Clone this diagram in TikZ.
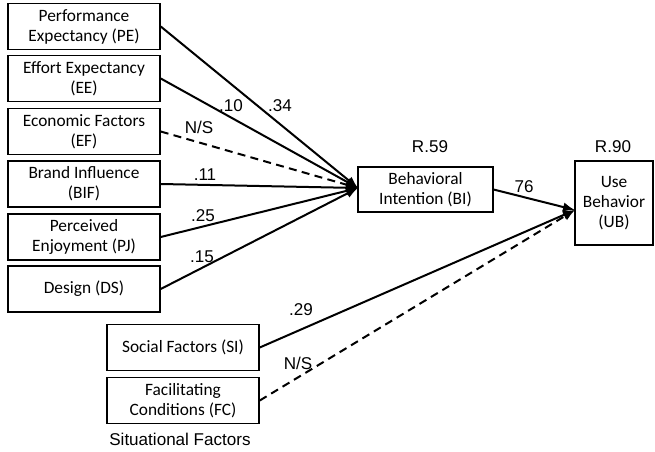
\documentclass[tikz,border=0pt]{standalone}
\usepackage{fontspec}
\setmainfont{Carlito}
\newfontfamily\lab{Liberation Sans}
\usetikzlibrary{arrows.meta}
\begin{document}
\begin{tikzpicture}[x=0.75pt,y=-0.75pt,
  box/.style={draw=black,line width=1.1pt,rectangle,align=center,inner sep=0pt,
    font=\fontsize{13}{15}\selectfont},
  lbox/.style={box,minimum width=114pt,minimum height=34.5pt},
  conn/.style={line width=1.5pt,-{Latex[length=9pt,width=7pt]}},
  dconn/.style={conn,dash pattern=on 6pt off 4pt},
  lbl/.style={font=\lab\fontsize{12.8}{14}\selectfont,inner sep=0pt}]
\useasboundingbox (0,0) rectangle (655,452);
\node[lbox] (PE) at (84,26.5) {Performance\\Expectancy (PE)};
\node[lbox] (EE) at (84,78.5) {Effort Expectancy\\(EE)};
\node[lbox] (EF) at (84,131.5) {Economic Factors\\(EF)};
\node[lbox] (BIF) at (84,184) {Brand Influence\\(BIF)};
\node[lbox] (PJ) at (84,237) {Perceived\\Enjoyment (PJ)};
\node[lbox] (DS) at (84,289) {Design (DS)};
\node[lbox] (SI) at (183,347.5) {Social Factors (SI)};
\node[lbox] (FC) at (183,400.5) {Facilitating\\Conditions (FC)};
\node[box,minimum width=101pt,minimum height=34pt] (BI) at (425.5,189.5) {Behavioral\\Intention (BI)};
\node[box,minimum width=58.5pt,minimum height=63pt] (UB) at (614,203) {Use\\Behavior\\(UB)};
\coordinate (ubin) at (575,210);
\coordinate (biin) at (358,188);
\node[lbl] (sit) at (180,439) {Situational Factors};
\node[lbl] (r59) at (430,147) {R.59};
\node[lbl] (r90) at (613,147) {R.90};
\draw[conn] (PE.east) -- (biin);
\draw[conn] (EE.east) -- (biin);
\draw[dconn] (EF.east) -- (biin);
\draw[conn] (BIF.east) -- (biin);
\draw[conn] (PJ.east) -- (biin);
\draw[conn] (DS.east) -- (biin);
\draw[conn] (BI.east) -- (ubin);
\draw[conn] (SI.east) -- (ubin);
\draw[dconn] (FC.east) -- (ubin);
\node[lbl] (l34) at (280,106) {.34};
\node[lbl] (l10) at (231,106) {.10};
\node[lbl] (lns1) at (199,127) {N/S};
\node[lbl] (l11) at (205,175) {.11};
\node[lbl] (l25) at (203,216) {.25};
\node[lbl] (l15) at (202,257) {.15};
\node[lbl] (l29) at (301,310) {.29};
\node[lbl] (lns2) at (298,363) {N/S};
\node[lbl] (l76) at (524,187) {76};
\end{tikzpicture}
\end{document}
